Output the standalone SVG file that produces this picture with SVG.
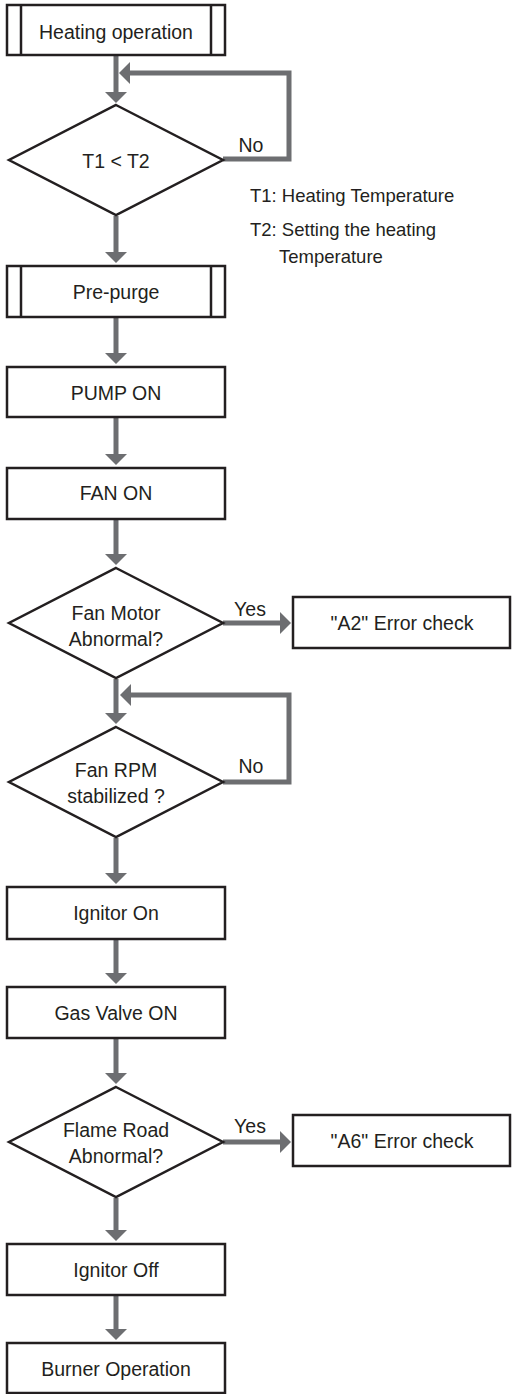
<svg xmlns="http://www.w3.org/2000/svg" width="512" height="1394" viewBox="0 0 512 1394">
<style>
.box{fill:#fff;stroke:#231f20;stroke-width:2.5}
.inner{stroke:#231f20;stroke-width:2.5}
.t{font-family:"Liberation Sans",Arial,sans-serif;font-size:19.5px;fill:#231f20;text-anchor:middle}
.lg{font-family:"Liberation Sans",Arial,sans-serif;font-size:18.5px;fill:#231f20}
.c{fill:none;stroke:#6d6e71;stroke-width:5}
</style>
<defs>
<marker id="ah" viewBox="0 0 11 22" refX="0" refY="11" markerWidth="11" markerHeight="22" markerUnits="userSpaceOnUse" orient="auto">
<path d="M0,0 L11,11 L0,22 z" fill="#6d6e71"/>
</marker>
</defs>
<rect width="512" height="1394" fill="#fff"/>
<g id="connectors">
<path class="c" marker-end="url(#ah)" d="M116,56 V92"/>
<path class="c" marker-end="url(#ah)" d="M223,159 H289 V73 H130"/>
<path class="c" marker-end="url(#ah)" d="M116,216 V252"/>
<path class="c" marker-end="url(#ah)" d="M116,318 V353"/>
<path class="c" marker-end="url(#ah)" d="M116,418 V454"/>
<path class="c" marker-end="url(#ah)" d="M116,520 V554"/>
<path class="c" marker-end="url(#ah)" d="M223,623 H280"/>
<path class="c" marker-end="url(#ah)" d="M116,679 V713"/>
<path class="c" marker-end="url(#ah)" d="M223,782 H289 V695 H131"/>
<path class="c" marker-end="url(#ah)" d="M116,838 V873"/>
<path class="c" marker-end="url(#ah)" d="M116,940 V973"/>
<path class="c" marker-end="url(#ah)" d="M116,1039 V1073"/>
<path class="c" marker-end="url(#ah)" d="M223,1142 H280"/>
<path class="c" marker-end="url(#ah)" d="M116,1198 V1230"/>
<path class="c" marker-end="url(#ah)" d="M116,1296 V1329"/>
</g>
<g id="heating">
<rect class="box" x="7" y="5" width="218" height="50"/>
<line class="inner" x1="21" y1="5" x2="21" y2="55"/>
<line class="inner" x1="211" y1="5" x2="211" y2="55"/>
<text class="t" x="116" y="38.5">Heating operation</text>
</g>
<g id="t1t2">
<polygon class="box" points="116,105 223,160 116,215 9,160"/>
<text class="t" x="116" y="168">T1 &lt; T2</text>
</g>
<g id="no1"><text class="t" x="251" y="152">No</text></g>
<g id="legend">
<text class="lg" x="250" y="202">T1: Heating Temperature</text>
<text class="lg" x="250" y="236">T2: Setting the heating</text>
<text class="lg" x="279" y="263">Temperature</text>
</g>
<g id="prepurge">
<rect class="box" x="7" y="266" width="218" height="51"/>
<line class="inner" x1="21" y1="266" x2="21" y2="317"/>
<line class="inner" x1="211" y1="266" x2="211" y2="317"/>
<text class="t" x="116" y="298.5">Pre-purge</text>
</g>
<g id="pump">
<rect class="box" x="7" y="367" width="218" height="50"/>
<text class="t" x="116" y="400">PUMP ON</text>
</g>
<g id="fan">
<rect class="box" x="7" y="468" width="218" height="51"/>
<text class="t" x="116" y="500">FAN ON</text>
</g>
<g id="fanmotor">
<polygon class="box" points="116,568 223,623 116,678 9,623"/>
<text class="t" x="116" y="620">Fan Motor</text>
<text class="t" x="116" y="646">Abnormal?</text>
</g>
<g id="yes1"><text class="t" x="250" y="616">Yes</text></g>
<g id="a2">
<rect class="box" x="293" y="597" width="217" height="51"/>
<text class="t" x="402" y="630">"A2" Error check</text>
</g>
<g id="fanrpm">
<polygon class="box" points="116,727 223,782 116,837 9,782"/>
<text class="t" x="116" y="777">Fan RPM</text>
<text class="t" x="116" y="803">stabilized ?</text>
</g>
<g id="no2"><text class="t" x="251" y="773">No</text></g>
<g id="ignon">
<rect class="box" x="7" y="887" width="218" height="52"/>
<text class="t" x="116" y="920">Ignitor On</text>
</g>
<g id="gas">
<rect class="box" x="7" y="987" width="218" height="51"/>
<text class="t" x="116" y="1020">Gas Valve ON</text>
</g>
<g id="flame">
<polygon class="box" points="116,1087 223,1142 116,1197 9,1142"/>
<text class="t" x="116" y="1137">Flame Road</text>
<text class="t" x="116" y="1163">Abnormal?</text>
</g>
<g id="yes2"><text class="t" x="250" y="1133">Yes</text></g>
<g id="a6">
<rect class="box" x="293" y="1115" width="217" height="51"/>
<text class="t" x="402" y="1148">"A6" Error check</text>
</g>
<g id="ignoff">
<rect class="box" x="7" y="1244" width="218" height="51"/>
<text class="t" x="116" y="1277">Ignitor Off</text>
</g>
<g id="burner">
<rect class="box" x="7" y="1343" width="218" height="50"/>
<text class="t" x="116" y="1376">Burner Operation</text>
</g>
</svg>
